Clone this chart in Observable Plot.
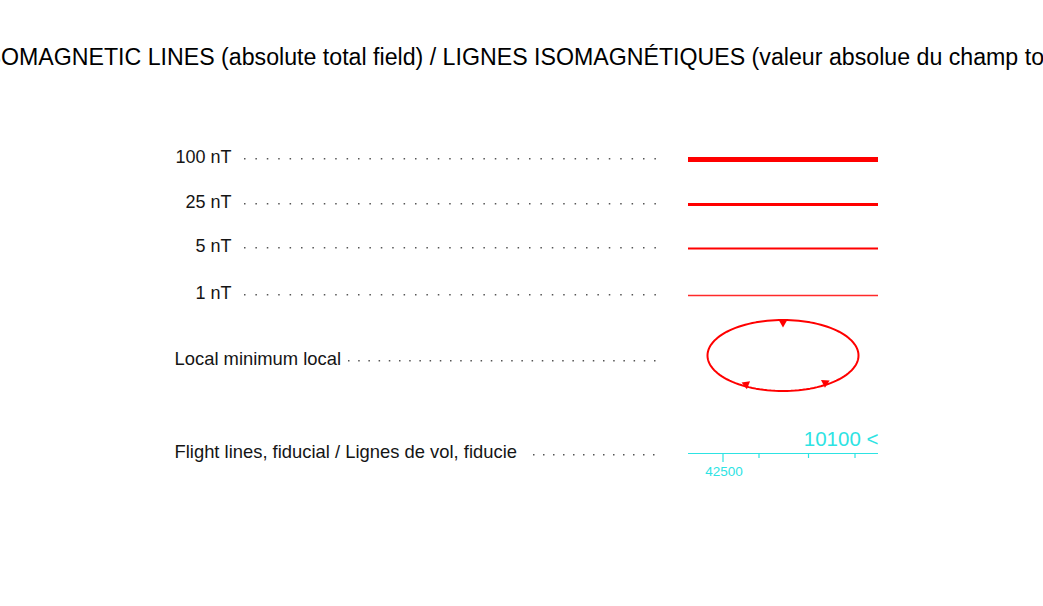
<!DOCTYPE html>
<html>
<head>
<meta charset="utf-8">
<script src="https://cdn.jsdelivr.net/npm/d3@7"></script>
<script src="https://cdn.jsdelivr.net/npm/@observablehq/plot@0.6"></script>
<style>
  html, body { margin: 0; padding: 0; background: #fff; overflow: hidden; }
  #chart svg { display: block; }
</style>
</head>
<body>
<div id="chart"></div>
<script>
// ---- Data (text content of the legend) ----
const titleText = "ISOMAGNETIC LINES (absolute total field) / LIGNES ISOMAGNÉTIQUES (valeur absolue du champ total)";
const contourLabels = ["100 nT", "25 nT", "5 nT", "1 nT"];
const minimumLabel = "Local minimum local";
const flightLabel = "Flight lines, fiducial / Lignes de vol, fiducie";
const flightLineNumber = "10100 <";
const fiducialLabels = ["42500"];

// ---- Styles ----
const RED = "#ff0000";
const CYAN = "#2de3e3";
const TEXT = "#151515";
const DOTS = "#555";
const contourWidths = [5, 3.2, 2, 1.3];
const contourColors = [RED, RED, RED, "#ff2a2a"];
const FONT = "Liberation Sans, Arial, Helvetica, sans-serif";

// ---- Layout (pixel space of the legend) ----
const W = 1043, H = 606;
const contourY = [159, 204, 248, 295];
const textDrop = 3;
const minY = 361, flightY = 455;
const labelRight = 231, labelLeft = 174;
const leaderEnd = 660;
const symX1 = 688, symX2 = 878;

// contour rows
const contourRows = contourLabels.map((label, i) => ({label, y: contourY[i], w: contourWidths[i], c: contourColors[i]}));

// ellipse (local minimum symbol)
const ell = {cx: 782.5, cy: 355, rx: 75.5, ry: 35.5};
const ellipsePts = d3.range(0, 361, 3).map(a => {
  const t = a * Math.PI / 180;
  return {x: ell.cx + ell.rx * Math.cos(t), y: ell.cy + ell.ry * Math.sin(t)};
});
const hachureAngles = [-90, 121, 54];
const hachures = hachureAngles.map(a => {
  const t = a * Math.PI / 180;
  const px = ell.cx + ell.rx * Math.cos(t), py = ell.cy + ell.ry * Math.sin(t);
  const dx = ell.cx - px, dy = ell.cy - py, L = Math.hypot(dx, dy);
  return {x: px + dx / L * 2.6, y: py + dy / L * 2.6, rot: Math.atan2(dx, -dy) * 180 / Math.PI};
});

// flight line fiducial ticks
const tickXs = [722.5, 758.5, 808, 854.5];
const ticks = tickXs.map((x, i) => ({x, y2: i === 0 ? 462 : 458}));

const chart = Plot.plot({
  width: W,
  height: H,
  margin: 0,
  style: {fontFamily: FONT, background: "#fff", overflow: "visible"},
  x: {domain: [0, W], range: [0, W], axis: null},
  y: {domain: [0, H], range: [0, H], axis: null},
  marks: [
    // title
    Plot.text([titleText], {x: -21.5, y: 64, text: d => d, textAnchor: "start", lineAnchor: "bottom",
      fontSize: 23.18, fill: "#000", fontFamily: FONT}),
    // contour labels
    Plot.text(contourRows, {x: labelRight, y: d => d.y + textDrop, text: "label", textAnchor: "end", lineAnchor: "bottom",
      fontSize: 18, fill: TEXT, fontFamily: FONT}),
    // contour leaders
    Plot.ruleY(contourRows, {y: d => d.y - 0.8, x1: 244, x2: leaderEnd, stroke: DOTS, strokeWidth: 1.5,
      strokeDasharray: "1.5 9.9"}),
    // contour lines
    Plot.ruleY(contourRows, {y: "y", x1: symX1, x2: symX2, stroke: "c", strokeWidth: "w"}),
    // local minimum row
    Plot.text([minimumLabel], {x: labelLeft, y: minY + textDrop, text: d => d, textAnchor: "start", lineAnchor: "bottom",
      fontSize: 18.4, fill: TEXT, fontFamily: FONT}),
    Plot.ruleY([minY - 0.8], {x1: 348, x2: leaderEnd, stroke: DOTS, strokeWidth: 1.5, strokeDasharray: "1.5 8.7"}),
    Plot.line(ellipsePts, {x: "x", y: "y", stroke: RED, strokeWidth: 2, curve: "linear-closed"}),
    Plot.dot(hachures, {x: "x", y: "y", symbol: "triangle", r: 3.2, fill: RED, stroke: null, rotate: "rot"}),
    // flight line row
    Plot.text([flightLabel], {x: labelLeft, y: flightY + textDrop - 1, text: d => d, textAnchor: "start", lineAnchor: "bottom",
      fontSize: 18.4, fill: TEXT, fontFamily: FONT}),
    Plot.ruleY([flightY - 0.8], {x1: 533, x2: leaderEnd, stroke: DOTS, strokeWidth: 1.5, strokeDasharray: "1.5 8.5"}),
    Plot.ruleY([453], {x1: symX1, x2: symX2, stroke: CYAN, strokeWidth: 1.2}),
    Plot.ruleX(ticks, {x: "x", y1: 453, y2: "y2", stroke: CYAN, strokeWidth: 1.2}),
    Plot.text([flightLineNumber], {x: symX2, y: 445, text: d => d, textAnchor: "end", lineAnchor: "bottom",
      fontSize: 20.5, fill: CYAN, fontFamily: FONT}),
    Plot.text(fiducialLabels, {x: tickXs[0] + 1, y: 475, text: d => d, textAnchor: "middle", lineAnchor: "bottom",
      fontSize: 13.5, fill: CYAN, fontFamily: FONT})
  ]
});
document.getElementById("chart").appendChild(chart);
</script>
</body>
</html>
